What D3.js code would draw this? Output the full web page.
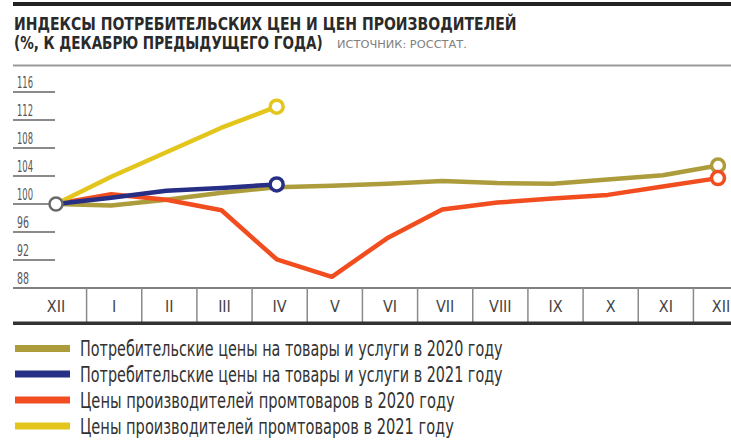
<!DOCTYPE html>
<html>
<head>
<meta charset="utf-8">
<script src="https://cdn.jsdelivr.net/npm/d3@7"></script>
<style>
  body { margin: 0; background: #fff; }
  svg { display: block; }
</style>
</head>
<body>
<div id="chart"></div>
<script>
// ИНДЕКСЫ ЦЕН: ДАННЫЕ

const months = ["XII", "I", "II", "III", "IV", "V", "VI", "VII", "VIII", "IX", "X", "XI", "XII"];
const yTicks = [88, 92, 96, 100, 104, 108, 112, 116];

const cpi2020 = [100, 99.8, 100.6, 101.6, 102.4, 102.6, 102.9, 103.3, 103.0, 102.9, 103.5, 104.1, 105.5];
const cpi2021 = [100, 100.9, 101.9, 102.3, 102.8];
const ppi2020 = [100, 101.4, 100.6, 99.1, 92.1, 89.6, 95.1, 99.2, 100.2, 100.8, 101.3, 102.5, 103.7];
const ppi2021 = [100, 103.9, 107.4, 110.9, 113.9];

const seriesNames = [
    "Потребительские цены на товары и услуги в 2020 году",
    "Потребительские цены на товары и услуги в 2021 году",
    "Цены производителей промтоваров в 2020 году",
    "Цены производителей промтоваров в 2021 году"
];

const colors = ["#ad9c3c", "#262e86", "#f24d1f", "#e4c51b"];
const narrow = "'Liberation Sans Narrow', 'DejaVu Sans Condensed', 'Roboto Condensed', sans-serif";

const W = 731, H = 445;

const svg = d3.select("#chart").append("svg")
    .attr("width", W)
    .attr("height", H)
    .attr("viewBox", `0 0 ${W} ${H}`);

// squeeze a text horizontally so it spans `target` px from (x, y)
function fitText(sel, x, y, target) {
    sel.attr("x", 0).attr("y", 0);
    const w = sel.node().getComputedTextLength();
    sel.attr("transform", `translate(${x},${y}) scale(${target / w},1)`);
    return sel;
}

// scales
const xScale = d3.scalePoint()
    .domain(d3.range(months.length))
    .range([56, 718]);
const step = xScale.step();

const yScale = d3.scaleLinear()
    .domain([88, 116])
    .range([288, 92]);

// HEADER
svg.append("rect")
    .attr("x", 13).attr("y", 2)
    .attr("width", W - 13).attr("height", 4)
    .attr("fill", "#222");

fitText(svg.append("text")
    .attr("font-family", narrow)
    .attr("font-weight", "bold")
    .attr("font-size", "17.5px")
    .attr("fill", "#2a2a2a")
    .text("ИНДЕКСЫ ПОТРЕБИТЕЛЬСКИХ ЦЕН И ЦЕН ПРОИЗВОДИТЕЛЕЙ"), 14, 29.5, 503);

fitText(svg.append("text")
    .attr("font-family", narrow)
    .attr("font-weight", "bold")
    .attr("font-size", "17.5px")
    .attr("fill", "#2a2a2a")
    .text("(%, К ДЕКАБРЮ ПРЕДЫДУЩЕГО ГОДА)"), 14, 48.5, 309);

fitText(svg.append("text")
    .attr("font-family", narrow)
    .attr("font-size", "10px")
    .attr("fill", "#808080")
    .text("ИСТОЧНИК: РОССТАТ."), 337, 47.5, 130);

svg.append("line")
    .attr("x1", 13).attr("x2", W)
    .attr("y1", 65.5).attr("y2", 65.5)
    .attr("stroke", "#9a9a9a")
    .attr("stroke-width", 2);

// Y TICKS
const yAxis = svg.append("g").attr("class", "y-axis");

yAxis.selectAll("line")
    .data(yTicks)
    .join("line")
    .attr("x1", 13).attr("x2", 55)
    .attr("y1", d => yScale(d)).attr("y2", d => yScale(d))
    .attr("stroke", "#8a8a8a")
    .attr("stroke-width", 2);

yAxis.selectAll("text")
    .data(yTicks)
    .join("text")
    .attr("font-family", narrow)
    .attr("font-size", "15px")
    .attr("fill", "#555")
    .text(d => d)
    .each(function(d) {
        fitText(d3.select(this), 17, yScale(d) - 4, String(d).length === 3 ? 16 : 12);
    });

// X AXIS ROW
const xAxis = svg.append("g").attr("class", "x-axis");

xAxis.append("line")
    .attr("x1", 13).attr("x2", W)
    .attr("y1", 288).attr("y2", 288)
    .attr("stroke", "#808080")
    .attr("stroke-width", 2);

xAxis.selectAll(".sep")
    .data(d3.range(months.length - 1))
    .join("line")
    .attr("class", "sep")
    .attr("x1", d => xScale(d) + step / 2 + 3)
    .attr("x2", d => xScale(d) + step / 2 + 3)
    .attr("y1", 288).attr("y2", 322)
    .attr("stroke", "#8a8a8a")
    .attr("stroke-width", 1.5);

xAxis.selectAll(".mlabel")
    .data(months)
    .join("text")
    .attr("class", "mlabel")
    .attr("x", (d, i) => xScale(i) + (i === 0 ? 0 : 3))
    .attr("y", 312)
    .attr("text-anchor", "middle")
    .attr("font-family", narrow)
    .attr("font-size", "16px")
    .attr("fill", "#444")
    .text(d => d);

svg.append("rect")
    .attr("x", 13).attr("y", 321.5)
    .attr("width", W - 13).attr("height", 3.5)
    .attr("fill", "#333");

// LINES
const lineGen = d3.line()
    .x((d, i) => xScale(i))
    .y(d => yScale(d));

const drawOrder = [
    { values: cpi2020, color: colors[0] },
    { values: ppi2020, color: colors[2] },
    { values: ppi2021, color: colors[3] },
    { values: cpi2021, color: colors[1] }
];

svg.append("g")
    .attr("class", "lines")
    .selectAll("path")
    .data(drawOrder)
    .join("path")
    .attr("d", d => lineGen(d.values))
    .attr("fill", "none")
    .attr("stroke", d => d.color)
    .attr("stroke-width", 4.5)
    .attr("stroke-linejoin", "round")
    .attr("stroke-linecap", "round");

// end markers
const markers = drawOrder.map(d => ({
    i: d.values.length - 1,
    v: d.values[d.values.length - 1],
    color: d.color
}));
markers.push({ i: 0, v: 100, color: "#6a6a6a" });

svg.append("g")
    .attr("class", "markers")
    .selectAll("circle")
    .data(markers)
    .join("circle")
    .attr("cx", d => xScale(d.i))
    .attr("cy", d => yScale(d.v))
    .attr("r", 6.5)
    .attr("fill", "#fff")
    .attr("stroke", d => d.color)
    .attr("stroke-width", d => d.i === 0 ? 2.5 : 3.5);

// LEGEND
const legendRows = [348.5, 374, 400, 426];
const legendWidths = [423, 423, 375, 374];

const legend = svg.append("g")
    .attr("class", "legend")
    .selectAll("g")
    .data(seriesNames)
    .join("g")
    .attr("transform", (d, i) => `translate(0, ${legendRows[i]})`);

legend.append("rect")
    .attr("x", 15).attr("y", -3.5)
    .attr("width", 55).attr("height", 7)
    .attr("fill", (d, i) => colors[i]);

legend.append("text")
    .attr("font-family", narrow)
    .attr("font-size", "21px")
    .attr("fill", "#333")
    .text(d => d)
    .each(function(d, i) {
        fitText(d3.select(this), 80, 7.5, legendWidths[i]);
    });
</script>
</body>
</html>
